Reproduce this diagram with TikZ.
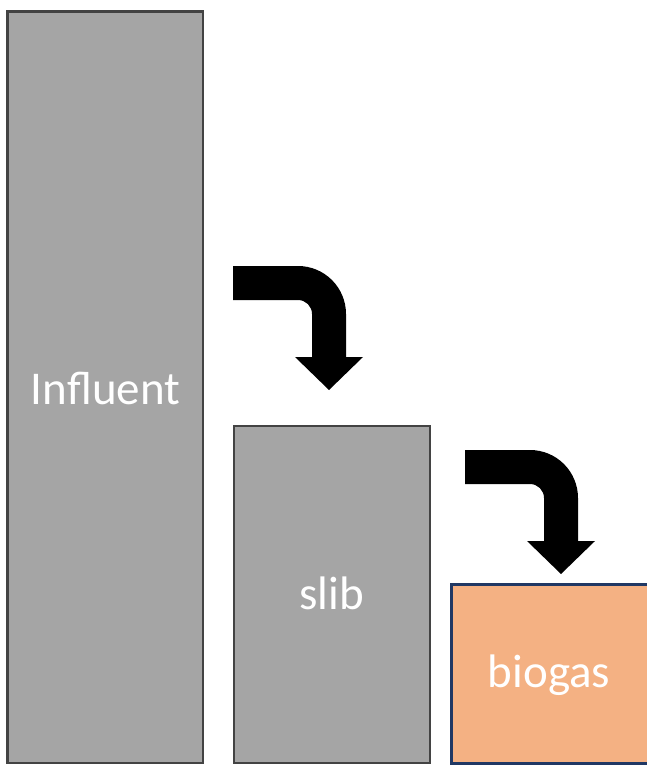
\documentclass[tikz,border=0pt]{standalone}
\usepackage{fontspec}
\setmainfont{Carlito}
\definecolor{bargray}{HTML}{A5A5A5}
\definecolor{bardark}{HTML}{434343}
\definecolor{gasfill}{HTML}{F4B183}
\definecolor{gasedge}{HTML}{203864}
\begin{document}
\begin{tikzpicture}[x=1pt,y=-1pt,
  bar/.style={rectangle, inner sep=0pt, line width=2.5pt, draw=bardark, fill=bargray},
  gasbar/.style={bar, draw=gasedge, fill=gasfill},
  bartext/.style={anchor=base, inner sep=0pt, text=white, font=\fontsize{47}{56}\selectfont},
  bentarrow/.pic={
    \fill[black] (0,0) -- (65,0)
      arc[start angle=90, end angle=0, radius=48pt]
      -- (113,91) -- (130,91) -- (96,124) -- (62,91) -- (79,91) -- (79,48)
      arc[start angle=0, end angle=90, radius=14pt]
      -- (0,34) -- cycle;
  }]
\useasboundingbox (0,0) rectangle (646,765);
% bars
\node[bar, minimum width=195.5pt, minimum height=751.5pt] (influent) at (105.25,387.25) {};
\node[bar, minimum width=196pt, minimum height=337pt] (slib) at (332,594.5) {};
\node[gasbar, minimum width=200pt, minimum height=179pt] (biogas) at (551.5,674) {};
% labels
\node[bartext] (influent-label) at (105.5,404) {Influent};
\node[bartext] (slib-label) at (331.5,609) {slib};
\node[bartext] (biogas-label) at (549,687) {biogas};
% bent flow arrows
\pic (flowA) at (233,266) {bentarrow};
\pic (flowB) at (465,450) {bentarrow};
\end{tikzpicture}
\end{document}
